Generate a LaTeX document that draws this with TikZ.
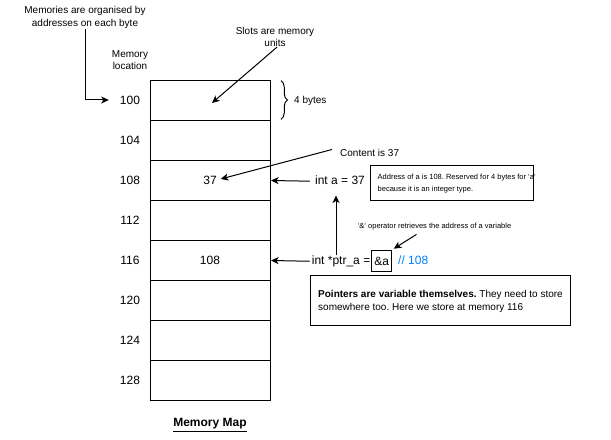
\documentclass[tikz,border=0pt]{standalone}
\usepackage{fontspec}
\setmainfont{Liberation Sans}
\usetikzlibrary{arrows.meta,decorations.pathreplacing}
\definecolor{codeblue}{RGB}{0,127,255}
\frenchspacing
\tikzset{
  slot/.style={draw, line width=1bp, minimum width=120bp, minimum height=40bp, inner sep=0pt,
    font=\fontsize{12bp}{14bp}\selectfont},
  addr/.style={inner sep=0pt, font=\fontsize{12bp}{14bp}\selectfont},
  code/.style={inner sep=0pt, text height=9bp, text depth=3bp, font=\fontsize{12bp}{14bp}\selectfont},
  note/.style={inner sep=0pt, align=center, font=\fontsize{10bp}{12.5bp}\selectfont},
  small/.style={inner sep=0pt, font=\fontsize{7.5bp}{12bp}\selectfont},
  infobox/.style={draw, line width=1bp},
  arr/.style={-{Stealth[length=7.5bp,width=7bp,inset=2bp]}, line width=1bp},
}
\begin{document}
\begin{tikzpicture}[x=1bp,y=-1bp]
\useasboundingbox (0,0) rectangle (611,440);

% memory slots
\node[slot] (s100) at (210.5,100.5) {};
\node[slot] (s104) at (210.5,140.5) {};
\node[slot] (s108) at (210.5,180.5) {};
\node[slot] (s112) at (210.5,220.5) {};
\node[slot] (s116) at (210.5,260.5) {};
\node[slot] (s120) at (210.5,300.5) {};
\node[slot] (s124) at (210.5,340.5) {};
\node[slot] (s128) at (210.5,380.5) {};
\node[addr] (v108) at (210,260) {108};

% addresses
\node[addr] (a100) at (130,100) {100};
\node[addr] (a104) at (130,140) {104};
\node[addr] (a108) at (130,180) {108};
\node[addr] (a112) at (130,220) {112};
\node[addr] (a116) at (130,260) {116};
\node[addr] (a120) at (130,300) {120};
\node[addr] (a124) at (130,340) {124};
\node[addr] (a128) at (130,380) {128};

\node[note] (ml) at (130,60) {Memory\\location};
\node[note] (mem) at (85,17.5) {Memories are organised by\\addresses on each byte};
\draw[arr, shorten >=11bp] ([xshift=0.5bp]mem.south) |- (a100.west);

\node[note] (slots) at (275,37) {Slots are memory\\units};
\coordinate (sp) at (212,103);
\draw[arr] ([xshift=2bp]slots.south) -- (sp);

% brace
\draw[line width=1bp, decorate, decoration={brace, amplitude=6.5bp}] (281,80.7) -- (281,119.3);
\node[note, anchor=west] (fb) at (294,101) {4 bytes};

% value 37
\node[addr] (v37) at (210,180) {37};
\node[note, anchor=west] (c37) at (340,152.5) {Content is 37};
\draw[arr, shorten >=4bp] ([xshift=-8bp,yshift=3bp]c37.west) -- (v37.east);

\node[code] (inta) at (340,181.3) {int a = 37};
\draw[arr, shorten <=5bp] (inta.west) -- (s108.east);

\node[infobox, minimum width=163bp, minimum height=35.7bp, inner sep=0pt] (addrbox) at (451.7,182.9) {};
\node[small, align=left, anchor=west] (addrtxt) at (377.5,183.5) {Address of a is 108. Reserved for 4 bytes for `a`\\because it is an integer type.};

% pointer line
\node[code, anchor=west] (ptr) at (311.7,261.3) {int *ptr\_a =};
\node[draw, line width=1bp, minimum width=20bp, minimum height=21bp, inner sep=0pt,
      font=\fontsize{12bp}{14bp}\selectfont] (amp) at (381.8,261.2) {\&a};
\node[code, anchor=west, text=codeblue] (cmt) at (398,261.3) {// 108};
\draw[arr, shorten <=2bp] (ptr.west) -- (s116.east);
\draw[arr, shorten >=8bp] ([xshift=-4bp]ptr.north -| inta.south) -- ([xshift=-4bp]inta.south);

\node[small] (amptxt) at (434.5,226.7) {`\&` operator retrieves the address of a variable};
\draw[arr] ([xshift=-18bp,yshift=-4bp]amptxt.south) -- ([xshift=1.5bp,yshift=1.5bp]amp.north east);

\node[infobox, minimum width=260bp, minimum height=50bp, inner sep=0pt] (ptrbox) at (440.5,300.5) {};
\node[note, align=left, anchor=west] (ptrtxt) at (318,301.5) {\textbf{Pointers are variable themselves.} They need to store\\somewhere too. Here we store at memory 116};

\node[inner sep=0pt, font=\fontsize{12bp}{14bp}\selectfont\bfseries] (title) at (210,425) {\underline{Memory Map}};
\end{tikzpicture}
\end{document}
